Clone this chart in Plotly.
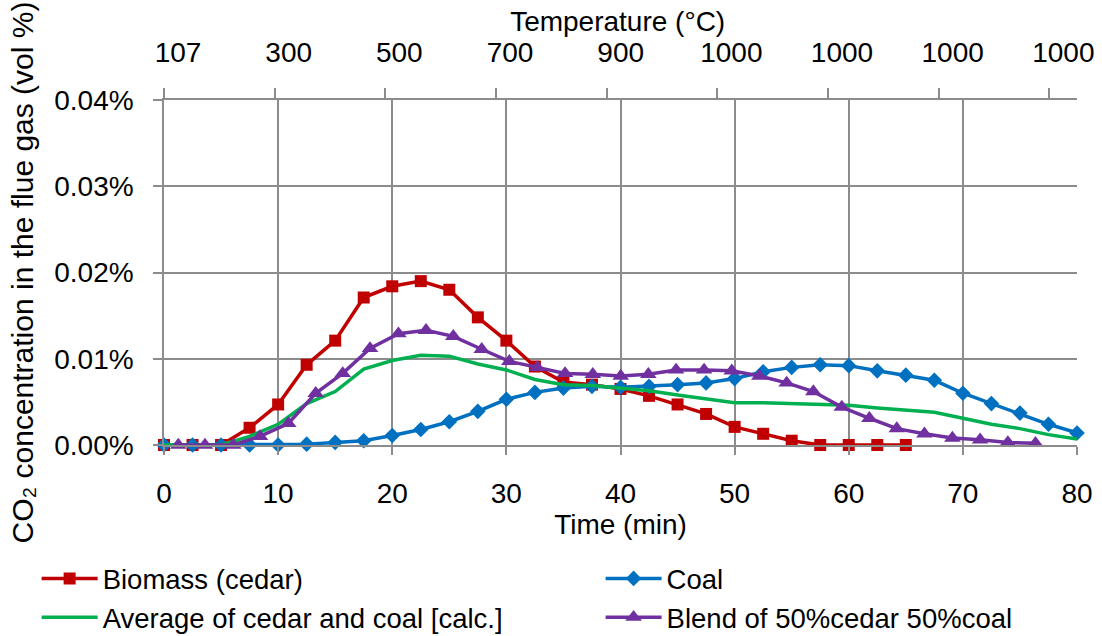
import plotly.graph_objects as go

# ---------------- data ----------------
time_min = [0, 2.5, 5, 7.5, 10, 12.5, 15, 17.5, 20, 22.5, 25, 27.5, 30, 32.5, 35, 37.5,
            40, 42.5, 45, 47.5, 50, 52.5, 55, 57.5, 60, 62.5, 65, 67.5, 70, 72.5, 75, 77.5, 80]

cedar_time = [0, 2.5, 5, 7.5, 10, 12.5, 15, 17.5, 20, 22.5, 25, 27.5, 30, 32.5, 35, 37.5,
              40, 42.5, 45, 47.5, 50, 52.5, 55, 57.5, 60, 62.5, 65]
cedar = [0, 0, 0, 0.0020, 0.0047, 0.0093, 0.0121, 0.0171, 0.0184, 0.0190, 0.0180, 0.0148,
         0.0121, 0.0091, 0.0073, 0.0070, 0.0065, 0.0057, 0.0047, 0.0036, 0.0021, 0.0013,
         0.0005, 0, 0, 0, 0]

coal = [0, 0, 0, 0, 0, 0.0001, 0.0003, 0.0005, 0.0011, 0.0018, 0.0027, 0.0039, 0.0053,
        0.0061, 0.0066, 0.0068, 0.0067, 0.0068, 0.0070, 0.0072, 0.0077, 0.0085, 0.0090,
        0.0093, 0.0092, 0.0086, 0.0081, 0.0075, 0.0060, 0.0048, 0.0037, 0.0024, 0.0014]

average = [0, 0, 0, 0.0010, 0.0024, 0.0048, 0.0062, 0.0088, 0.0098, 0.0104, 0.0103, 0.0094,
           0.0087, 0.0076, 0.0070, 0.0069, 0.0066, 0.0063, 0.0058, 0.0054, 0.0049, 0.0049,
           0.0048, 0.0047, 0.0046, 0.0043, 0.0041, 0.0038, 0.0031, 0.0024, 0.0019, 0.0012, 0.0007]

blend_time = [1.25, 3.59, 6.07, 8.41, 10.89, 13.29, 15.66, 18.05, 20.54, 22.96, 25.35, 27.84,
              30.26, 32.71, 35.14, 37.57, 40.02, 42.44, 44.87, 47.32, 49.75, 52.17, 54.56,
              56.90, 59.39, 61.81, 64.21, 66.63, 69.08, 71.51, 73.94, 76.36]
blend = [0, 0, 0, 0.0010, 0.0025, 0.0060, 0.0083, 0.0112, 0.0129, 0.0133, 0.0126, 0.0111,
         0.0097, 0.0090, 0.0083, 0.0082, 0.0080, 0.0082, 0.0087, 0.0087, 0.0086, 0.0080,
         0.0072, 0.0062, 0.0044, 0.0031, 0.0019, 0.0013, 0.0008, 0.0006, 0.0003, 0.0002]

temp_labels = ["107", "300", "500", "700", "900", "1000", "1000", "1000", "1000"]
temp_cat_ticks = [0, 4, 8, 12, 16, 20, 24, 28, 32]   # category boundaries on top axis (33 cats)

# ---------------- style ----------------
FONT = "Liberation Sans, Arial, sans-serif"
FS = 28
GRID = "#8C8C8C"

fig = go.Figure()
fig.add_trace(go.Scatter(x=cedar_time, y=cedar, name="Biomass (cedar)", mode="lines+markers",
                         line=dict(color="#C00000", width=3.5),
                         marker=dict(symbol="square", size=12, color="#C00000"),
                         legend="legend", legendgroup="a", cliponaxis=False))
fig.add_trace(go.Scatter(x=time_min, y=coal, name="Coal", mode="lines+markers",
                         line=dict(color="#0070C0", width=3.5),
                         marker=dict(symbol="diamond", size=12, color="#0070C0"),
                         legend="legend2", legendgroup="b", cliponaxis=False))
fig.add_trace(go.Scatter(x=time_min, y=average, name="Average of cedar and coal [calc.]",
                         mode="lines", line=dict(color="#00B050", width=3.5),
                         legend="legend", legendgroup="c", cliponaxis=False))
fig.add_trace(go.Scatter(x=blend_time, y=blend, name="Blend of 50%cedar 50%coal",
                         mode="lines+markers", line=dict(color="#7030A0", width=3.5),
                         marker=dict(symbol="triangle-up", size=14.5, color="#7030A0"),
                         legend="legend2", legendgroup="d", cliponaxis=False))
# carrier trace for the top (temperature) axis
fig.add_trace(go.Scatter(x=temp_cat_ticks, y=[None] * len(temp_cat_ticks), xaxis="x2",
                         showlegend=False, hoverinfo="skip", mode="lines"))

legend_common = dict(orientation="v", xanchor="left", yanchor="top", y=-0.316,
                     itemwidth=56, tracegroupgap=0,
                     font=dict(family=FONT, size=27.5, color="black"),
                     bgcolor="rgba(0,0,0,0)", borderwidth=0)

fig.update_layout(
    width=1102, height=636,
    margin=dict(l=164, r=25, t=100, b=191, autoexpand=False),
    paper_bgcolor="white", plot_bgcolor="white",
    font=dict(family=FONT, size=FS, color="black"),
    showlegend=True,
    title=dict(text="Temperature (°C)", x=0.5605, xref="container", xanchor="center",
               y=0.967, yref="container", yanchor="middle",
               font=dict(family=FONT, size=FS, color="black")),
    legend=dict(x=-0.1395, **legend_common),
    legend2=dict(x=0.4782, **legend_common),
    xaxis=dict(range=[0, 80], dtick=10, tick0=0, showgrid=True, gridcolor=GRID, gridwidth=1.5,
               showline=True, linecolor=GRID, linewidth=1.5, ticks="outside", ticklen=8,
               tickcolor=GRID, tickwidth=1.5, zeroline=False, automargin=False,
               title=dict(text="Time (min)", standoff=2, font=dict(size=FS)),
               ticklabelstandoff=15),
    xaxis2=dict(overlaying="x", side="top", anchor="y", range=[0, 33],
                tickmode="array", tickvals=temp_cat_ticks, ticktext=temp_labels,
                ticklabelshift=14, ticks="outside", ticklen=10, tickcolor=GRID, tickwidth=1.5,
                showline=True, linecolor=GRID, linewidth=1.5, showgrid=False, zeroline=False,
                automargin=False, ticklabelstandoff=15),
    yaxis=dict(range=[0, 0.04], dtick=0.01, tick0=0, tickformat=".2f", ticksuffix="%",
               showgrid=True, gridcolor=GRID, gridwidth=1.5, showline=True, linecolor=GRID,
               linewidth=1.5, ticks="outside", ticklen=9, tickcolor=GRID, tickwidth=1.5,
               zeroline=False, automargin=False, ticklabelstandoff=14,
               title=dict(text="CO₂ concentration in the flue gas (vol %)", standoff=12,
                          font=dict(size=30))),
)

fig.write_html("out.html")
